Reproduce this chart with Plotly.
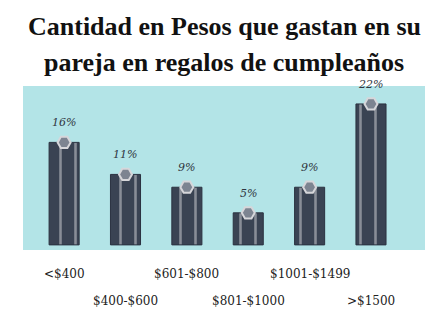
import plotly.graph_objects as go

categories = ["<$400", "$400-$600", "$601-$800", "$801-$1000", "$1001-$1499", ">$1500"]
values = [16, 11, 9, 5, 9, 22]
value_labels = ["16%", "11%", "9%", "5%", "9%", "22%"]
title_lines = ["Cantidad en Pesos que gastan en su", "pareja en regalos de cumpleaños"]

x = list(range(len(categories)))

fig = go.Figure()
fig.add_trace(go.Bar(
    x=x, y=values, width=0.49,
    marker=dict(color="#3a4353", line=dict(color="#2b3240", width=1),
                pattern=dict(shape="|", fgcolor="#d8d8dc", bgcolor="#3a4353",
                             size=15, solidity=0.17)),
    hoverinfo="skip",
))
# top caps
fig.add_trace(go.Scatter(
    x=x, y=values, mode="markers", cliponaxis=False,
    marker=dict(symbol="hexagon2", size=13, color="#7d8491",
                line=dict(color="#d6d6da", width=2)),
    hoverinfo="skip",
))

for i, v in enumerate(values):
    fig.add_annotation(x=i, y=v, xref="x", yref="y", text=value_labels[i],
                       showarrow=False, yanchor="bottom", yshift=11,
                       font=dict(family="DejaVu Serif", size=11, color="#2f3540",
                                 style="italic"))

for i, c in enumerate(categories):
    fig.add_annotation(x=i, y=-0.146 if i % 2 == 0 else -0.31, xref="x", yref="paper",
                       text=c, showarrow=False, yanchor="middle",
                       font=dict(family="DejaVu Serif", size=12, color="#222"))

plot_h = 336 - 86 - 86
for j, line in enumerate(title_lines):
    py = [27, 62][j]
    fig.add_annotation(x=0.5, y=1 + (86 - py) / plot_h, xref="paper", yref="paper",
                       yanchor="middle", text="<b>" + line + "</b>", showarrow=False,
                       font=dict(family="Liberation Serif", size=26, color="#111"))

fig.update_layout(
    width=448, height=336,
    margin=dict(l=23, r=23, t=86, b=86),
    paper_bgcolor="white", plot_bgcolor="#b3e4e7",
    showlegend=False,
    xaxis=dict(range=[-0.67, 5.88], visible=False),
    yaxis=dict(range=[-0.8, 24.8], visible=False),
)

fig.write_html("out.html")
